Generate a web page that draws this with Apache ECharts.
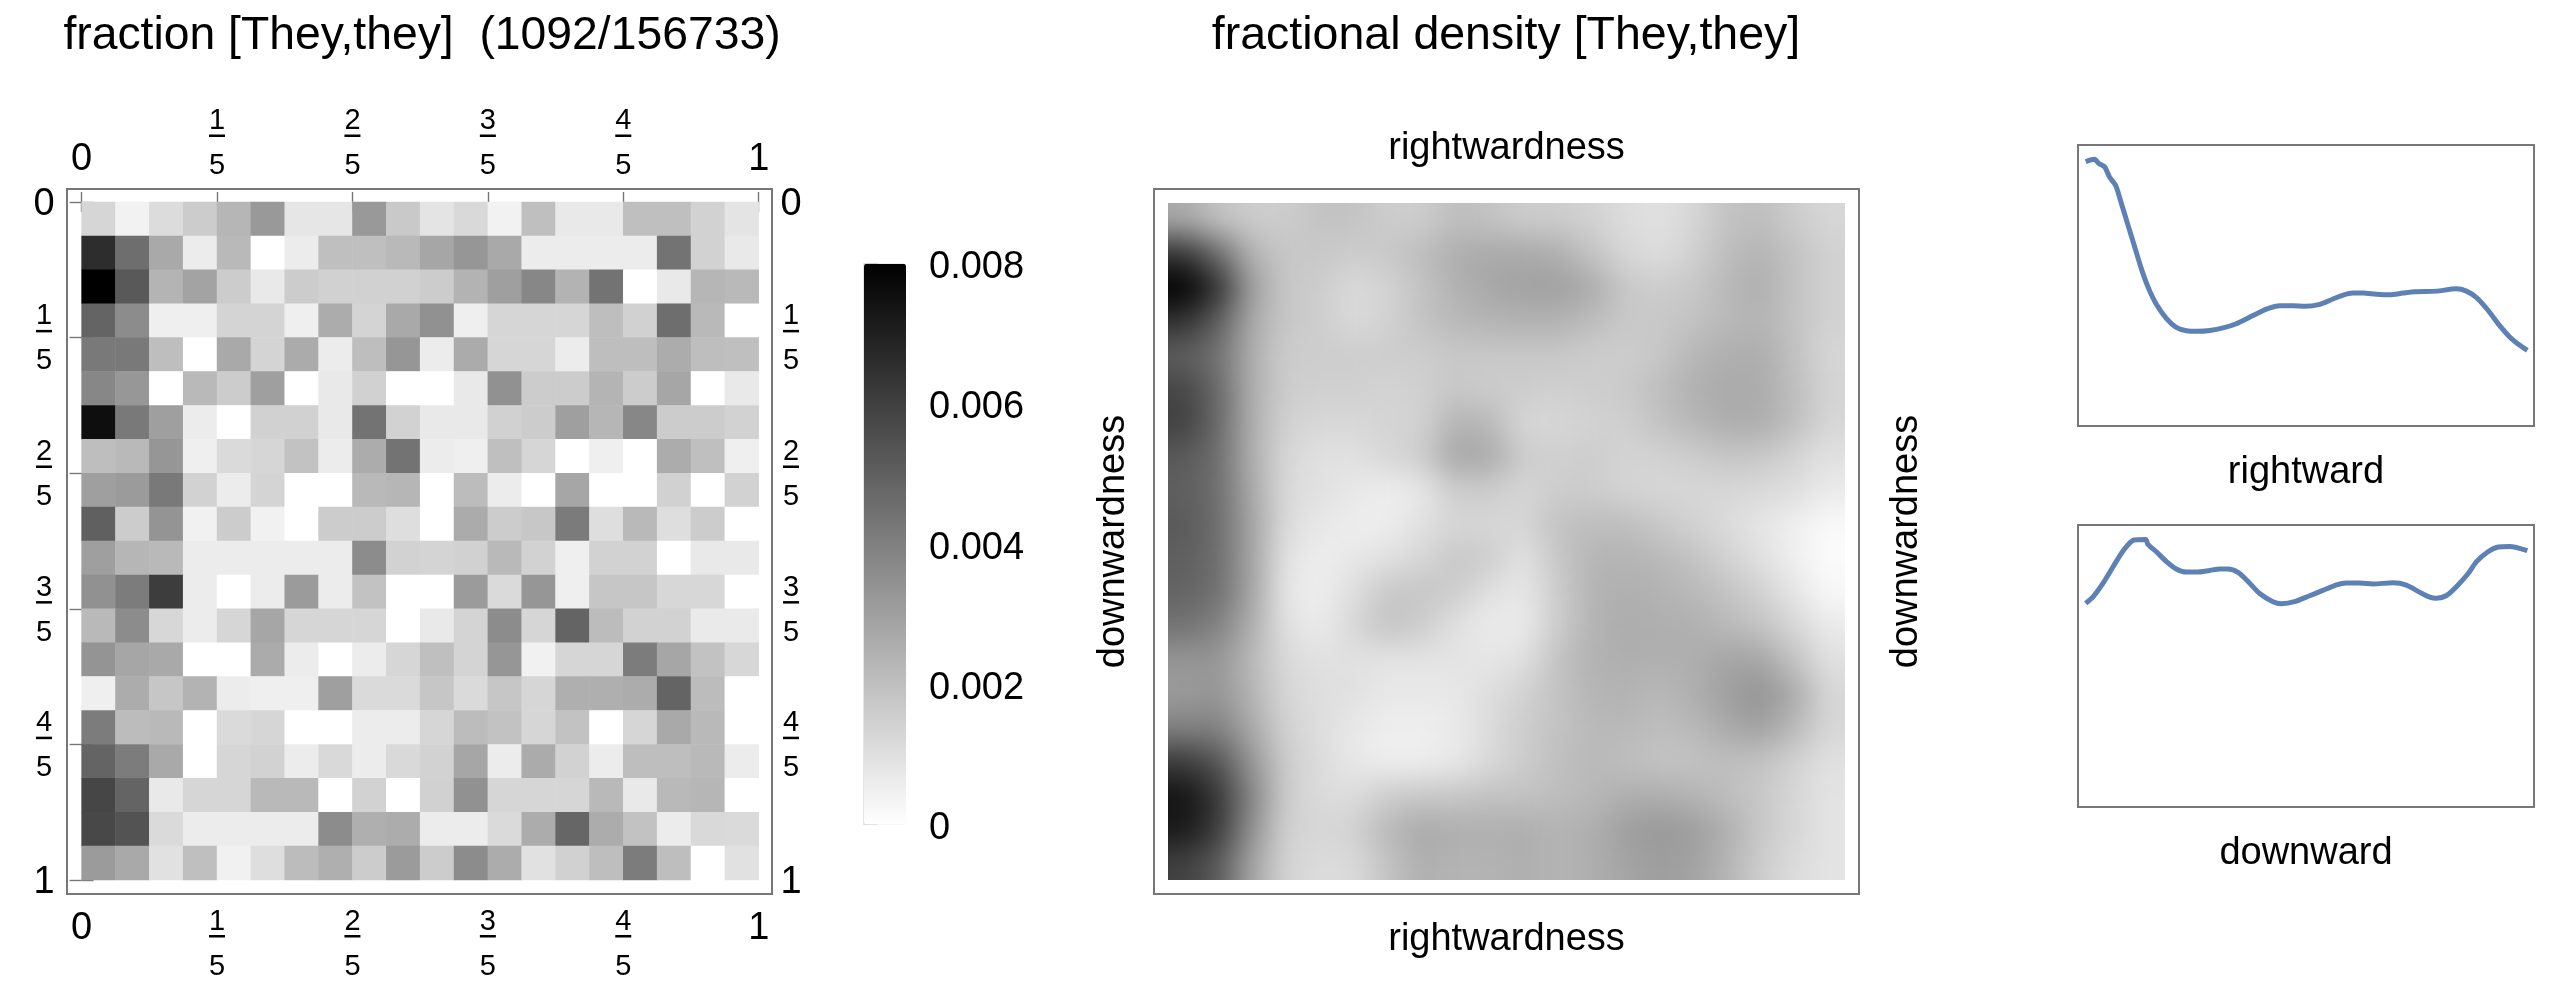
<!DOCTYPE html>
<html><head><meta charset="utf-8">
<style>
html,body{margin:0;padding:0;background:#fff;width:2558px;height:1000px;overflow:hidden}
#densityClip{position:absolute;left:1168px;top:203px;width:677px;height:677px;overflow:hidden;z-index:1}
#density{position:absolute;left:-102px;top:-102px;width:881px;height:881px;filter:blur(15px)}
#main{position:absolute;left:0;top:0;width:2558px;height:1000px;z-index:2}
</style>
<script src="https://cdn.jsdelivr.net/npm/echarts@6/dist/echarts.min.js"></script>
</head><body>
<div id="densityClip"><div id="density"></div></div>
<div id="main"></div>
<script>
// Fraction per cell, in thousandths, rows top to bottom
const fractionThousandths = [
[1.3,.4,1.1,1.6,2.3,3.2,.8,.8,3.2,1.7,.85,1.2,.4,2.0,.7,.7,2.0,2.0,1.4,.85],
[6.6,4.55,2.7,.6,2.2,0,.6,2.0,2.0,2.2,2.8,3.3,2.7,.6,.6,.6,.6,4.4,1.4,.7],
[8,5.2,2.35,2.9,1.6,.7,1.6,1.45,1.45,1.45,1.6,2.4,3.0,3.75,2.4,4.4,0,.7,2.3,2.2],
[4.85,3.6,.5,.5,1.35,1.35,.5,2.6,1.35,2.7,3.45,.5,1.3,1.3,1.3,2.05,1.45,4.55,2.2,0],
[4.2,4.2,2.05,0,2.7,1.35,2.65,.6,2.05,3.3,.6,2.65,1.3,1.3,.6,2.05,2.05,2.6,2.05,2.0],
[3.75,3.25,0,2.2,1.6,3,0,.7,1.45,0,0,.7,3.45,1.6,1.6,2.35,1.6,2.8,0,.7],
[7.55,4.2,3,.6,0,1.45,1.45,.7,4.4,1.4,.7,.7,1.45,1.6,3,2.3,3.75,1.6,1.6,1.4],
[2.05,2.2,3.3,.5,1.15,1.3,1.9,.6,2.6,4.4,.6,.5,2,1.3,0,.5,0,2.6,2,.5],
[3,3.15,4.2,1.4,.6,1.35,0,0,2.2,2.3,0,2.1,.6,0,2.8,0,0,1.45,0,1.4],
[5.0,1.6,3.35,.45,1.6,.45,0,1.6,1.6,1.05,0,2.65,1.6,1.75,4.15,1.05,2.2,1.05,1.6,0],
[3,2.3,2.2,.6,.6,.6,.6,.6,3.6,1.4,1.35,1.45,2.2,1.4,.5,1.4,1.4,0,.7,.7],
[3.45,4.1,6.1,.6,0,.6,3.15,.6,1.9,0,0,3.15,1.15,3.3,.5,1.8,1.8,1.25,1.25,0],
[2.2,3.6,1.25,.6,1.3,2.8,1.3,1.3,1.3,0,.7,1.35,3.6,1.3,4.85,2.1,1.4,1.4,.65,.65],
[3.35,2.8,2.7,0,0,2.65,.6,0,.6,1.3,2,1.35,3.3,.45,1.3,1.3,4.1,2.8,1.9,1.25],
[.5,2.6,1.8,2.4,.6,.5,.5,3,1.15,1.15,1.8,1.15,1.8,1.3,2.5,2.5,2.6,4.85,2.1,0],
[4.1,2.1,2.2,0,1.15,1.3,0,0,.6,.6,1.3,2.1,1.9,1.3,1.9,0,1.3,2.7,2.2,0],
[4.85,4.1,2.7,0,1.3,1.4,.6,1.2,.6,1.2,1.4,2.8,.6,2.65,1.4,.6,2.05,2.05,2.2,.6],
[5.8,4.85,.7,1.3,1.3,2.2,2.2,0,1.4,0,1.45,3.45,1.3,1.3,1.3,2.2,.7,2.2,2.3,0],
[5.75,5.4,1.15,.6,.6,.6,.6,3.6,2.5,2.6,.6,.6,1.15,2.6,4.8,2.6,1.9,.6,1.2,1.15],
[3.15,2.7,.95,2,.45,1.05,2.1,2.5,1.6,3.15,1.6,3.6,2.6,.95,1.45,2.05,4.1,2.05,0,.95]
];
// Density, relative shade 0 (white) to 255 (black), rows top to bottom
const densityShade = [
[85,60,50,50,60,60,50,50,65,60,50,50,45,35,30,40,60,65,50,40],
[200,145,75,55,55,50,55,65,80,85,85,80,60,40,33,45,65,75,60,45],
[255,205,95,55,50,37,43,60,77,87,93,95,85,55,50,55,70,80,60,45],
[205,160,85,55,50,37,45,60,70,75,77,77,67,55,55,60,70,75,60,45],
[160,140,80,50,50,50,50,50,55,55,55,55,50,50,55,72,80,82,62,40],
[185,150,80,50,47,47,43,47,55,50,50,47,50,52,65,78,85,83,65,43],
[190,150,80,45,40,40,43,45,75,70,40,40,45,48,60,72,82,82,65,40],
[165,145,80,40,30,30,40,50,88,85,50,47,50,43,45,50,57,55,42,30],
[160,145,85,37,30,23,17,23,50,50,40,50,50,43,40,40,40,37,33,20],
[165,145,90,35,23,17,17,30,40,40,40,60,65,65,55,45,35,25,15,5],
[160,145,90,27,17,23,30,40,55,50,27,55,73,75,70,60,45,30,15,3],
[155,143,90,23,17,33,55,57,50,30,23,50,75,80,77,70,60,45,25,7],
[140,125,80,30,20,40,60,50,30,20,20,50,75,83,80,80,70,60,40,20],
[105,105,70,37,30,30,27,27,27,25,30,60,77,80,80,80,90,90,60,30],
[100,105,75,40,33,30,23,23,23,33,45,60,73,77,70,80,95,108,85,40],
[125,125,85,45,33,23,17,17,20,35,50,60,70,70,65,70,85,95,70,40],
[195,170,105,50,35,23,17,17,23,37,50,63,70,65,60,60,65,60,45,30],
[235,200,120,50,35,35,50,55,55,60,60,65,70,80,80,75,65,55,40,27],
[230,195,110,45,40,45,70,85,80,80,80,75,80,95,103,97,80,55,40,27],
[190,165,90,43,35,37,60,80,75,75,80,75,80,90,97,93,75,50,35,27]
];
const rightwardX = [0,.020,.030,.043,.054,.068,.081,.096,.111,.126,.141,.160,.183,.205,.228,.254,.281,.311,.341,.371,.394,.417,.439,.469,.496,.530,.560,.583,.605,.628,.658,.688,.718,.745,.794,.839,.862,.885,.911,.937,.960,.983,1];
const rightwardY = [.941,.949,.934,.922,.886,.856,.791,.714,.637,.560,.495,.433,.382,.351,.339,.337,.340,.349,.364,.387,.405,.420,.428,.428,.426,.433,.452,.466,.473,.473,.469,.467,.473,.478,.480,.488,.480,.457,.412,.358,.317,.287,.269];
const downwardX = [0,.017,.039,.062,.085,.109,.136,.141,.160,.183,.205,.228,.251,.281,.303,.322,.345,.368,.394,.424,.443,.473,.507,.537,.568,.590,.620,.651,.696,.726,.756,.779,.794,.817,.843,.866,.885,.911,.934,.960,1];
const downwardY = [.722,.746,.793,.852,.909,.947,.949,.931,.905,.870,.844,.833,.833,.839,.844,.844,.832,.799,.757,.728,.721,.728,.749,.768,.788,.794,.794,.791,.795,.787,.762,.744,.740,.750,.787,.828,.870,.905,.922,.924,.909];
const tickValues = [0,.2,.4,.6,.8,1];
const tickLabels = ['0','1/5','2/5','3/5','4/5','1'];
const titleLeft = 'fraction [They,they]  (1092/156733)';
const titleRight = 'fractional density [They,they]';

const FONT = '"Liberation Sans", Arial, sans-serif';
const FRAME = '#777777';
const cellIdx = Array.from({length:20},(_,i)=>i);

function fracLabel(v){
  const i = tickValues.findIndex(t=>Math.abs(t-v)<1e-6);
  const s = tickLabels[i<0?0:i];
  if(s.indexOf('/')<0) return '{z|'+s+'}';
  const p = s.split('/');
  return '{n|'+p[0]+'}\n{b| }\n{g| }\n{d|'+p[1]+'}';
}
const fracRich = {
  z:{fontSize:38,lineHeight:42,fontFamily:FONT,color:'#000'},
  n:{fontSize:29,lineHeight:27,fontFamily:FONT,color:'#000'},
  b:{width:16,height:2.5,lineHeight:2.5,fontSize:1,backgroundColor:'#000'},
  g:{fontSize:1,height:14,lineHeight:14},
  d:{fontSize:29,lineHeight:30,fontFamily:FONT,color:'#000'}
};
function fracAxis(gridIndex,position,range,tickLen,margin,inverse){
  return {
    type:'value',gridIndex,position,min:range[0],max:range[1],inverse:!!inverse,
    axisLine:{show:false},splitLine:{show:false},
    axisTick:{show:true,inside:true,length:tickLen,customValues:tickValues,lineStyle:{color:FRAME,width:1.4}},
    axisLabel:{show:true,customValues:tickValues,formatter:fracLabel,rich:fracRich,margin,align:'center',hideOverlap:false,
      padding:inverse?[4,0,0,0]:0}
  };
}
function plainAxis(gridIndex,position,range,name,nameGap,rotate){
  const o = {
    type:'value',gridIndex,position,min:range[0],max:range[1],
    axisLine:{show:false},axisTick:{show:false},axisLabel:{show:false},splitLine:{show:false}
  };
  if(name){
    o.name=name;o.nameLocation='middle';o.nameGap=nameGap;
    o.nameTextStyle={fontSize:38,fontFamily:FONT,color:'#000'};
    if(rotate!==undefined) o.nameRotate=rotate;
  }
  return o;
}
function hiddenCategory(gridIndex,inverse){
  return {type:'category',gridIndex,data:cellIdx,show:false,inverse:!!inverse};
}

const fractionCells=[];
fractionThousandths.forEach((row,r)=>row.forEach((v,c)=>fractionCells.push([c,r,v/1000])));

const xr=[-0.02156,1.01964], yr=[-0.0192,1.0206];
const xm=[0,1], lineX=[-0.0174,1.0151];
const frameStyle={show:true,borderColor:FRAME,borderWidth:2,backgroundColor:'transparent'};

const main = echarts.init(document.getElementById('main'),null,{renderer:'canvas',width:2558,height:1000});
main.setOption({
  animation:false,
  backgroundColor:'transparent',
  title:[
    {text:titleLeft,left:417,top:8,textAlign:'center',textStyle:{fontSize:46.3,fontWeight:'normal',fontFamily:FONT,color:'#000'}},
    {text:titleRight,left:1501,top:8,textAlign:'center',textStyle:{fontSize:46.5,fontWeight:'normal',fontFamily:FONT,color:'#000'}}
  ],
  grid:[
    {left:81.6,top:202,width:677.1,height:678},
    Object.assign({left:67,top:189,width:705,height:705},frameStyle),
    {left:864,top:263.7,width:42,height:560.7},
    Object.assign({left:1154,top:189,width:705,height:705},frameStyle),
    Object.assign({left:2078,top:145,width:456,height:281},frameStyle),
    Object.assign({left:2078,top:525,width:456,height:282},frameStyle)
  ],
  xAxis:[
    hiddenCategory(0),
    fracAxis(1,'top',xr,10,8),
    fracAxis(1,'bottom',xr,10,14),
    {type:'value',gridIndex:2,min:0,max:1,show:false},
    plainAxis(3,'top',xm,'rightwardness',21),
    plainAxis(3,'bottom',xm,'rightwardness',27),
    plainAxis(4,'bottom',lineX,'rightward',28),
    plainAxis(5,'bottom',lineX,'downward',28)
  ],
  yAxis:[
    hiddenCategory(0,true),
    fracAxis(1,'left',yr,12,23,true),
    fracAxis(1,'right',yr,12,19,true),
    {type:'value',gridIndex:2,position:'right',min:0,max:0.008,interval:0.002,
      axisLine:{show:true,lineStyle:{color:'#dcdcdc',width:1.5}},
      axisTick:{show:true,length:13.5,lineStyle:{color:'#dcdcdc',width:1.2}},
      minorTick:{show:true,splitNumber:4,length:8,lineStyle:{color:'#e4e4e4',width:1.2}},
      splitLine:{show:false},
      axisLabel:{margin:23,hideOverlap:false,padding:[8,0,0,0],
        rich:{v:{fontSize:38,lineHeight:42,fontFamily:FONT,color:'#000'}},
        formatter:v=>'{v|'+(v===0?'0':v.toFixed(3))+'}'}},
    plainAxis(3,'left',xm,'downwardness',21,90),
    plainAxis(3,'right',xm,'downwardness',29,90),
    plainAxis(4,'left',[0,1]),
    plainAxis(5,'left',[0,1])
  ],
  visualMap:[{
    type:'continuous',seriesIndex:0,min:0,max:0.008,calculable:false,hoverLink:false,
    left:864,top:263.7,itemWidth:42,itemHeight:560.7,padding:0,showLabel:false,text:null,
    inRange:{color:['#ffffff','#000000']}
  }],
  series:[
    {type:'heatmap',xAxisIndex:0,yAxisIndex:0,data:fractionCells,silent:true,progressive:0,
      itemStyle:{borderWidth:0},emphasis:{disabled:true}},
    {type:'line',xAxisIndex:6,yAxisIndex:6,data:rightwardX.map((x,i)=>[x,rightwardY[i]]),smooth:0.25,
      showSymbol:false,silent:true,lineStyle:{color:'#5e81b5',width:5,join:'round'}},
    {type:'line',xAxisIndex:7,yAxisIndex:7,data:downwardX.map((x,i)=>[x,downwardY[i]]),smooth:0.25,
      showSymbol:false,silent:true,lineStyle:{color:'#5e81b5',width:5,join:'round'}}
  ]
});

// Density map: a second instance, softened by the CSS blur on its element.
// Three border cells repeat the edge values so the blur does not fade at the sides.
const PAD=3;
const densityCells=[], paddedIdx=Array.from({length:26},(_,i)=>i);
paddedIdx.forEach(r=>paddedIdx.forEach(c=>{
  const rr=Math.min(19,Math.max(0,r-PAD)), cc=Math.min(19,Math.max(0,c-PAD));
  densityCells.push([c,r,densityShade[rr][cc]]);
}));
const density = echarts.init(document.getElementById('density'),null,{renderer:'canvas',width:881,height:881});
density.setOption({
  animation:false,
  grid:{left:0,top:0,right:0,bottom:0},
  xAxis:{type:'category',data:paddedIdx,show:false},
  yAxis:{type:'category',data:paddedIdx,show:false,inverse:true},
  visualMap:{show:false,min:0,max:255,inRange:{color:['#ffffff','#000000']}},
  series:[{type:'heatmap',data:densityCells,silent:true,progressive:0,emphasis:{disabled:true}}]
});
</script>
</body></html>
